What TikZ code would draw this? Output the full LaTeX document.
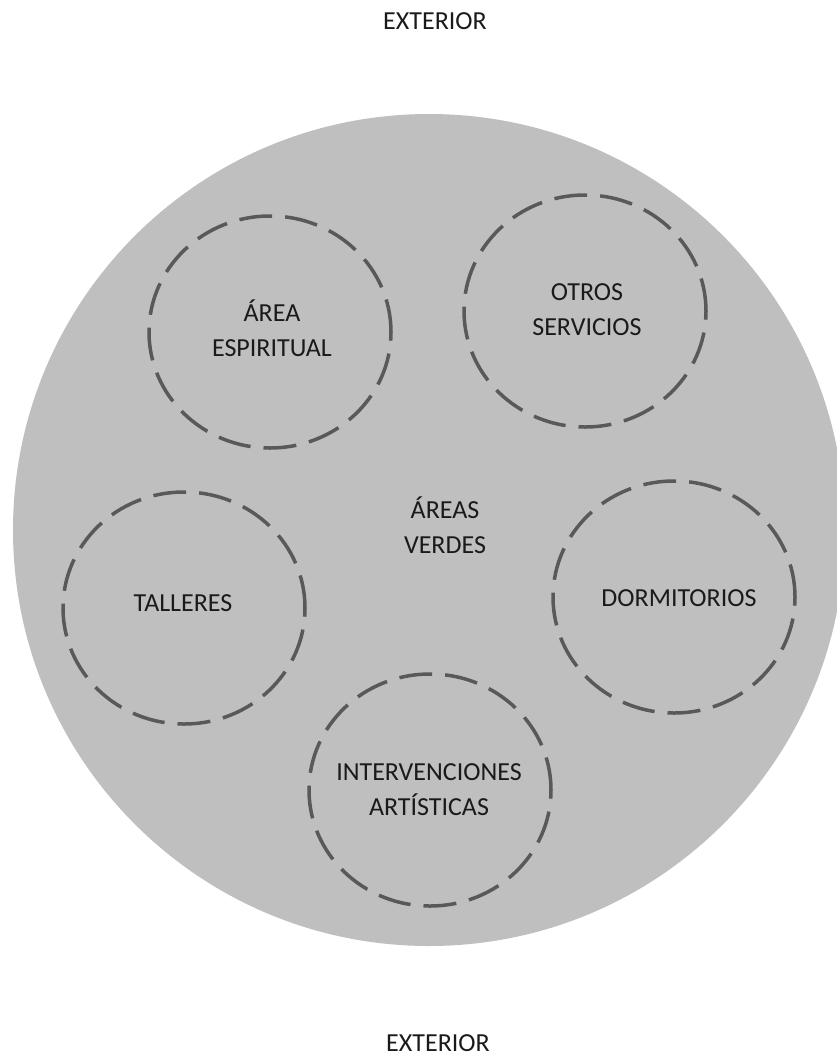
\documentclass[tikz,border=0pt]{standalone}
\usepackage{fontspec}
\setmainfont{Carlito}
\usetikzlibrary{shapes.geometric}
\definecolor{areafill}{HTML}{BFBFBF}
\definecolor{zoneline}{HTML}{595959}
\definecolor{txt}{HTML}{1A1A1A}
\tikzset{
  zone/.style={ellipse, draw=zoneline, line width=3.5pt,
    dash pattern=on 33pt off 13pt,
    minimum width=242pt, minimum height=232pt, inner sep=0pt},
  lbl/.style={align=center, text=txt, font=\fontsize{26}{35}\selectfont, inner sep=0pt}
}
\begin{document}
\begin{tikzpicture}[x=1pt,y=-1pt]
\useasboundingbox (0,0) rectangle (836,1061);
\node[circle, fill=areafill, minimum size=832pt, inner sep=0pt] (verde) at (429,530) {};
\node[lbl] (extA) at (435,21) {EXTERIOR};
\node[lbl] (extB) at (438,1043) {EXTERIOR};
\node[lbl] (av) at (445,525) {ÁREAS\\VERDES};
\node[zone] (esp) at (270,332) {};
\node[zone] (otr) at (585,311) {};
\node[zone] (tal) at (184,608) {};
\node[zone] (dor) at (674,597) {};
\node[zone] (int) at (430,790) {};
\node[lbl] (espT) at (272,328) {ÁREA\\ESPIRITUAL};
\node[lbl] (otrT) at (587,310) {OTROS\\SERVICIOS};
\node[lbl] (talT) at (183,603) {TALLERES};
\node[lbl] (dorT) at (679,598) {DORMITORIOS};
\node[lbl] (intT) at (429,790) {INTERVENCIONES\\ARTÍSTICAS};
\end{tikzpicture}
\end{document}
